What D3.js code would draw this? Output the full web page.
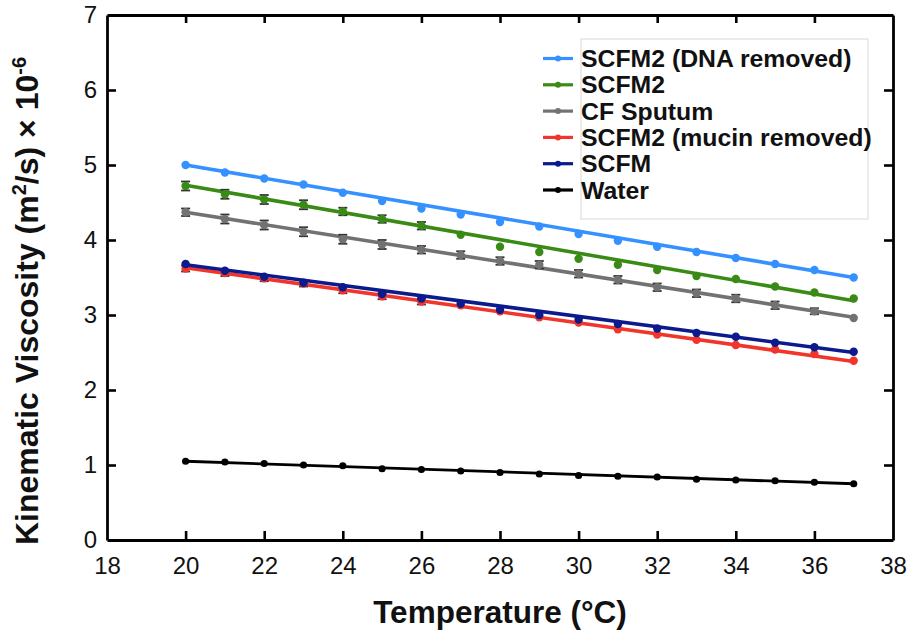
<html>
  <head>
    <script src="https://d3js.org/d3.v7.min.js"></script>
  </head>
  <body style="margin:0; background:#fff">
    <svg width="909" height="633" id="chart"></svg>
  </body>
  <script type="text/javascript">
    // temperatures (°C)
    var temps = [20,21,22,23,24,25,26,27,28,29,30,31,32,33,34,35,36,37];

    var dnaRemoved = [5.00,4.90,4.82,4.74,4.63,4.52,4.42,4.34,4.24,4.18,4.08,3.99,3.91,3.84,3.76,3.68,3.60,3.50];
    var scfm2      = [4.72,4.61,4.54,4.47,4.38,4.28,4.19,4.07,3.91,3.84,3.75,3.67,3.60,3.52,3.48,3.38,3.30,3.22];
    var cfSputum   = [4.37,4.28,4.20,4.11,4.01,3.94,3.87,3.80,3.72,3.67,3.55,3.47,3.37,3.29,3.22,3.13,3.05,2.96];
    var mucinRem   = [3.62,3.56,3.49,3.42,3.33,3.25,3.18,3.13,3.05,2.97,2.90,2.81,2.74,2.67,2.60,2.54,2.48,2.39];
    var scfm       = [3.68,3.59,3.51,3.43,3.37,3.28,3.22,3.15,3.07,3.00,2.94,2.88,2.82,2.76,2.71,2.63,2.57,2.51];
    var water      = [1.05,1.04,1.02,1.00,0.99,0.95,0.94,0.92,0.90,0.88,0.86,0.85,0.84,0.81,0.80,0.79,0.77,0.75];

    // error bars (half widths), 0 where none is visible
    var errScfm2   = [0.06,0.06,0.06,0.06,0.05,0.05,0.05,0,0,0,0,0,0,0,0,0,0,0];
    var errSputum  = [0.05,0.06,0.06,0.06,0.06,0.06,0.05,0.05,0.05,0.05,0.05,0.05,0.05,0.05,0.05,0.05,0.04,0];
    var errMucin   = [0.04,0.04,0.04,0.04,0.04,0.04,0.04,0,0,0,0,0,0,0,0,0,0,0];

    // fitted lines, end values
    var fitTemps     = [20, 37];
    var fitDna       = [5.00, 3.50];
    var fitScfm2     = [4.73, 3.19];
    var fitSputum    = [4.37, 2.97];
    var fitMucin     = [3.63, 2.38];
    var fitScfm      = [3.67, 2.50];
    var fitWater     = [1.05, 0.75];

    var xTicks = [18,20,22,24,26,28,30,32,34,36,38];
    var yTicks = [0,1,2,3,4,5,6,7];

    var series = [
      {name: "SCFM2 (DNA removed)", values: dnaRemoved, err: null, fit: fitDna, color: "#3591ff"},
      {name: "SCFM2", values: scfm2, err: errScfm2, fit: fitScfm2, color: "#3a8a16"},
      {name: "CF Sputum", values: cfSputum, err: errSputum, fit: fitSputum, color: "#727272"},
      {name: "SCFM2 (mucin removed)", values: mucinRem, err: errMucin, fit: fitMucin, color: "#f2352b"},
      {name: "SCFM", values: scfm, err: null, fit: fitScfm, color: "#0b1a8c"},
      {name: "Water", values: water, err: null, fit: fitWater, color: "#000000"}
    ];
    // draw order (bottom to top)
    var drawOrder = [5, 3, 4, 2, 1, 0];

    var plotLeft = 107, plotRight = 893, plotTop = 15, plotBottom = 540;

    var svg = d3.select("#chart");
    var font = "Liberation Sans, Arial, Helvetica, sans-serif";

    var x = d3.scaleLinear().domain([18, 38]).range([plotLeft, plotRight]);
    var y = d3.scaleLinear().domain([0, 7]).range([plotBottom, plotTop]);

    var line = d3.line()
        .x(function(d){ return x(d[0]); })
        .y(function(d){ return y(d[1]); });

    // data
    drawOrder.forEach(function(k){
      var s = series[k];
      var g = svg.append("g");
      var isWater = s.name == "Water";
      g.append("path")
        .attr("d", line(fitTemps.map(function(t, i){ return [t, s.fit[i]]; })))
        .attr("stroke", s.color)
        .attr("stroke-width", isWater ? 2.8 : 3.6)
        .attr("fill", "none");
      if (s.err) {
        temps.forEach(function(t, i){
          var e = s.err[i];
          if (!e) return;
          var cx = x(t);
          g.append("line").attr("x1", cx).attr("x2", cx)
            .attr("y1", y(s.values[i] - e)).attr("y2", y(s.values[i] + e))
            .attr("stroke", "#333").attr("stroke-width", 1.6);
          [s.values[i] - e, s.values[i] + e].forEach(function(v){
            g.append("line").attr("x1", cx - 4.5).attr("x2", cx + 4.5)
              .attr("y1", y(v)).attr("y2", y(v))
              .attr("stroke", "#333").attr("stroke-width", 1.8);
          });
        });
      }
      g.selectAll("circle").data(temps).enter().append("circle")
        .attr("cx", function(d){ return x(d); })
        .attr("cy", function(d, i){ return y(s.values[i]); })
        .attr("r", isWater ? 3.6 : 4.2)
        .attr("fill", s.color);
    });

    // axes, all ticks pointing inward
    var axisStyle = function(g){
      g.select(".domain").attr("stroke-width", 2.8);
      g.selectAll(".tick line").attr("stroke-width", 2.6);
      g.selectAll("text").attr("font-family", font).attr("font-size", 24).attr("fill", "#111");
    };

    svg.append("g").attr("transform", "translate(0," + plotBottom + ")")
      .call(d3.axisBottom(x).tickValues(xTicks).tickSizeInner(-9).tickSizeOuter(0).tickPadding(17))
      .call(axisStyle);

    svg.append("g").attr("transform", "translate(0," + plotTop + ")")
      .call(d3.axisTop(x).tickValues(xTicks).tickSizeInner(-8).tickSizeOuter(0).tickFormat(""))
      .call(axisStyle);

    svg.append("g").attr("transform", "translate(" + plotLeft + ",0)")
      .call(d3.axisLeft(y).tickValues(yTicks).tickFormat(d3.format("d")).tickSizeInner(-9).tickSizeOuter(0).tickPadding(10))
      .call(axisStyle);

    svg.append("g").attr("transform", "translate(" + plotRight + ",0)")
      .call(d3.axisRight(y).tickValues(yTicks).tickSizeInner(-9).tickSizeOuter(0).tickFormat(""))
      .call(axisStyle);

    // hide the end ticks that sit on the frame
    svg.selectAll(".tick").filter(function(d){ return d == 18 || d == 38 || d == 0 || d == 7; })
      .select("line").remove();

    // axis titles
    svg.append("text")
      .attr("x", 500).attr("y", 623)
      .attr("text-anchor", "middle")
      .attr("font-family", font).attr("font-weight", "bold").attr("font-size", 31.5)
      .attr("fill", "#111")
      .text("Temperature (°C)");

    var yt = svg.append("text")
      .attr("transform", "translate(38,301) rotate(-90)")
      .attr("text-anchor", "middle")
      .attr("font-family", font).attr("font-weight", "bold").attr("font-size", 32)
      .attr("fill", "#111");
    yt.append("tspan").text("Kinematic Viscosity (m");
    yt.append("tspan").attr("font-size", 20).attr("dy", -12).text("2");
    yt.append("tspan").attr("dy", 12).text("/s) × 10");
    yt.append("tspan").attr("font-size", 20).attr("dy", -12).text("-6");

    // legend
    svg.append("rect")
      .attr("x", 581).attr("y", 39).attr("width", 287).attr("height", 180)
      .attr("fill", "none").attr("stroke", "#d8d8d8").attr("stroke-width", 1);

    series.forEach(function(s, i){
      var ly = 58.5 + i * 26.3;
      svg.append("line").attr("x1", 543).attr("x2", 573).attr("y1", ly).attr("y2", ly)
        .attr("stroke", s.color).attr("stroke-width", 3.2);
      svg.append("circle").attr("cx", 558).attr("cy", ly).attr("r", 3).attr("fill", s.color);
      svg.append("text").attr("x", 581).attr("y", ly + 8.5)
        .attr("font-family", font).attr("font-weight", "bold").attr("font-size", 24.8)
        .attr("fill", "#111")
        .text(s.name);
    });
  </script>
</html>
